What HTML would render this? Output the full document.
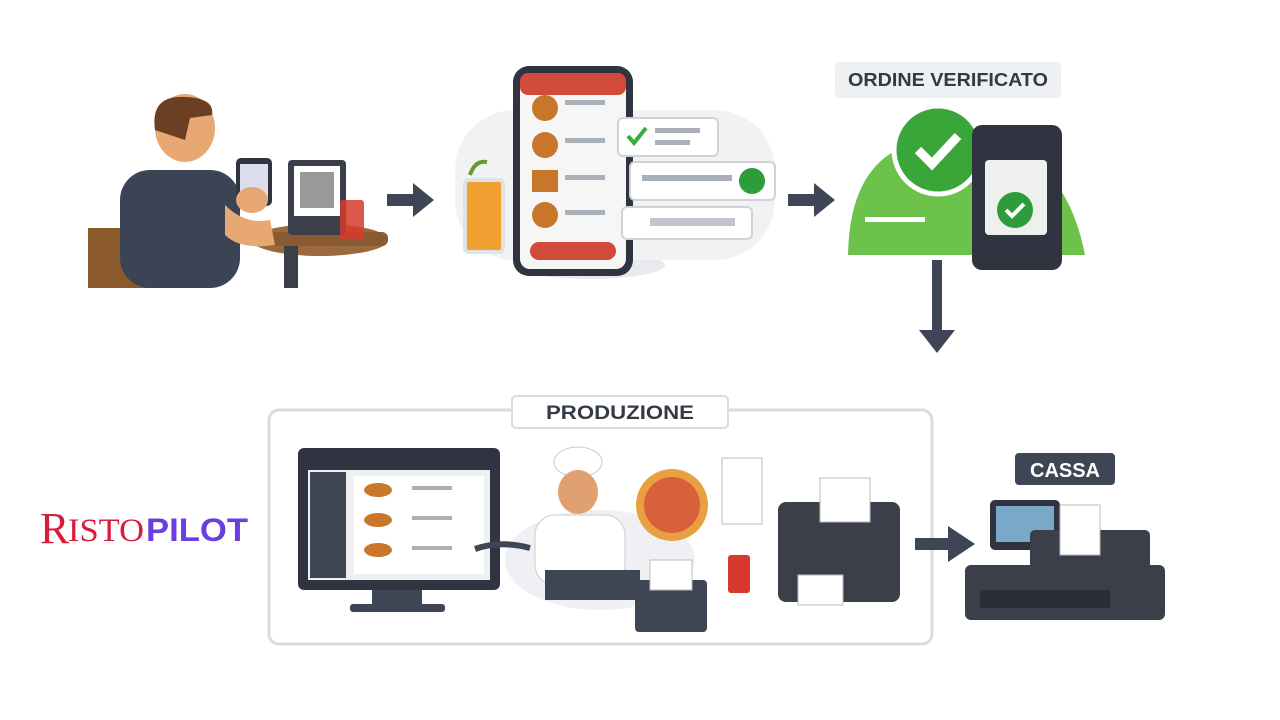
<!DOCTYPE html>
<html><head><meta charset="utf-8"><style>
html,body{margin:0;padding:0;background:#fff;}
svg{display:block}
text{font-family:"Liberation Sans",sans-serif}
</style></head><body>
<svg width="1280" height="720" viewBox="0 0 1280 720" xmlns="http://www.w3.org/2000/svg">
<rect width="1280" height="720" fill="#fff"/>
<!-- Person scene -->
<ellipse cx="320" cy="240" rx="68" ry="16" fill="#9a6a3e"/>
<rect x="252" y="232" width="136" height="14" rx="6" fill="#8a5a30"/>
<rect x="284" y="246" width="14" height="42" fill="#3a3f4a"/>
<rect x="288" y="160" width="58" height="75" rx="4" fill="#3a3f4a"/>
<rect x="294" y="166" width="46" height="50" fill="#fff"/>
<rect x="300" y="172" width="34" height="36" fill="#555" opacity=".6"/>
<rect x="340" y="200" width="24" height="40" rx="3" fill="#d7392c" opacity=".85"/>
<rect x="88" y="228" width="70" height="60" fill="#8b5a2b"/>
<rect x="120" y="170" width="120" height="118" rx="30" fill="#3b4454"/>
<ellipse cx="185" cy="128" rx="30" ry="34" fill="#e8a874"/>
<path d="M155 130 Q150 95 185 97 Q215 98 212 115 L190 118 L185 140 Z" fill="#6b3f22"/>
<rect x="236" y="158" width="36" height="48" rx="5" fill="#2f3440"/>
<rect x="240" y="164" width="28" height="36" fill="#dde"/>
<ellipse cx="252" cy="200" rx="16" ry="13" fill="#e8a874"/>
<path d="M225 205 Q245 225 270 220 L275 245 Q240 250 225 235 Z" fill="#e8a874"/>
<!-- arrow 1 -->
<path d="M387 194 H413 V183 L434 200 L413 217 V206 H387 Z" fill="#3e4656"/>
<!-- phone scene -->
<ellipse cx="590" cy="265" rx="75" ry="14" fill="#e8eaee"/>
<rect x="455" y="110" width="320" height="150" rx="60" fill="#f1f2f4"/>
<rect x="465" y="180" width="38" height="72" rx="4" fill="#f0a030" stroke="#dfe3e6" stroke-width="4"/>
<path d="M470 175 Q475 160 487 162" stroke="#6a9a2a" stroke-width="4" fill="none"/>
<rect x="513" y="66" width="120" height="210" rx="16" fill="#2f3440"/>
<rect x="520" y="73" width="106" height="196" rx="10" fill="#f6f6f6"/>
<rect x="520" y="73" width="106" height="22" rx="8" fill="#d24a3a"/>
<g fill="#c8762a"><circle cx="545" cy="108" r="13"/><circle cx="545" cy="145" r="13"/><rect x="532" y="170" width="26" height="22"/><circle cx="545" cy="215" r="13"/></g>
<g fill="#aab0b8"><rect x="565" y="100" width="40" height="5"/><rect x="565" y="138" width="40" height="5"/><rect x="565" y="175" width="40" height="5"/><rect x="565" y="210" width="40" height="5"/></g>
<rect x="530" y="242" width="86" height="18" rx="9" fill="#d24a3a"/>
<rect x="618" y="118" width="100" height="38" rx="5" fill="#fff" stroke="#cfd3d8" stroke-width="2"/>
<path d="M628 136 l6 7 l12 -15" stroke="#3cae3c" stroke-width="4" fill="none"/>
<rect x="655" y="128" width="45" height="5" fill="#aab0b8"/><rect x="655" y="140" width="35" height="5" fill="#aab0b8"/>
<rect x="630" y="162" width="145" height="38" rx="5" fill="#fff" stroke="#cfd3d8" stroke-width="2"/>
<circle cx="752" cy="181" r="13" fill="#2e9c3a"/>
<rect x="642" y="175" width="90" height="6" fill="#aab0b8"/>
<rect x="622" y="207" width="130" height="32" rx="5" fill="#fff" stroke="#cfd3d8" stroke-width="2"/>
<rect x="650" y="218" width="85" height="8" fill="#c2c6cc"/>
<!-- arrow 2 -->
<path d="M788 194 H814 V183 L835 200 L814 217 V206 H788 Z" fill="#3e4656"/>
<!-- verified -->
<rect x="835" y="62" width="226" height="36" rx="4" fill="#eef0f2"/>
<text x="948" y="86" font-size="18" font-weight="bold" fill="#333a44" text-anchor="middle" textLength="200" lengthAdjust="spacingAndGlyphs">ORDINE VERIFICATO</text>
<path d="M848 255 Q850 150 930 140 Q1060 125 1085 255 Z" fill="#6cc24a"/>
<circle cx="938" cy="150" r="44" fill="#3aa63a" stroke="#fff" stroke-width="5"/>
<path d="M918 150 l14 14 l26 -28" stroke="#fff" stroke-width="9" fill="none"/>
<rect x="865" y="217" width="60" height="5" fill="#fff"/>
<rect x="972" y="125" width="90" height="145" rx="10" fill="#2f3440"/>
<rect x="985" y="160" width="62" height="75" rx="4" fill="#eef0ee"/>
<circle cx="1015" cy="210" r="18" fill="#2e9c3a"/>
<path d="M1006 210 l6 6 l12 -12" stroke="#fff" stroke-width="4" fill="none"/>
<!-- down arrow -->
<path d="M932 260 H942 V330 H955 L937 353 L919 330 H932 Z" fill="#3e4656"/>
<!-- logo -->
<text x="40" y="543" style="font-family:'Liberation Serif',serif" font-size="44" fill="#d91a3a">R</text>
<text x="68" y="541" style="font-family:'Liberation Serif',serif" font-size="33" fill="#d91a3a" textLength="76" lengthAdjust="spacingAndGlyphs">ISTO</text>
<text x="146" y="541" font-size="32" font-weight="bold" fill="#6a3ee0" textLength="102" lengthAdjust="spacingAndGlyphs">PILOT</text>
<!-- production frame -->
<rect x="269" y="410" width="663" height="234" rx="10" fill="none" stroke="#d8dbe0" stroke-width="3"/>
<rect x="512" y="396" width="216" height="32" rx="4" fill="#fff" stroke="#d8dbe0" stroke-width="2"/>
<text x="620" y="419" font-size="19" font-weight="bold" fill="#333a44" text-anchor="middle" textLength="148" lengthAdjust="spacingAndGlyphs">PRODUZIONE</text>
<rect x="298" y="448" width="202" height="142" rx="6" fill="#2f3440"/>
<rect x="308" y="470" width="182" height="110" fill="#eef0f3"/>
<rect x="310" y="472" width="36" height="106" fill="#3e4656"/>
<rect x="354" y="476" width="130" height="98" fill="#fff"/>
<g fill="#c8762a"><ellipse cx="378" cy="490" rx="14" ry="7"/><ellipse cx="378" cy="520" rx="14" ry="7"/><ellipse cx="378" cy="550" rx="14" ry="7"/></g>
<g fill="#aab0b8"><rect x="412" y="486" width="40" height="4"/><rect x="412" y="516" width="40" height="4"/><rect x="412" y="546" width="40" height="4"/></g>
<rect x="372" y="590" width="50" height="16" fill="#3e4656"/><rect x="350" y="604" width="95" height="8" rx="3" fill="#3e4656"/>
<ellipse cx="600" cy="560" rx="95" ry="50" fill="#eef0f3"/>
<ellipse cx="578" cy="462" rx="24" ry="15" fill="#fff" stroke="#ccc"/>
<ellipse cx="578" cy="492" rx="20" ry="22" fill="#e0a070"/>
<rect x="535" y="515" width="90" height="70" rx="20" fill="#fff" stroke="#ccc"/>
<rect x="545" y="570" width="95" height="30" fill="#3e4656"/>
<path d="M475 549 Q500 540 530 548" stroke="#3e4656" stroke-width="6" fill="none"/>
<circle cx="672" cy="505" r="36" fill="#e8a040"/><circle cx="672" cy="505" r="28" fill="#d8603a"/>
<rect x="722" y="458" width="40" height="66" fill="#fff" stroke="#bbb"/>
<rect x="728" y="555" width="22" height="38" rx="3" fill="#d7392c"/>
<rect x="635" y="580" width="72" height="52" rx="4" fill="#3e4656"/>
<rect x="650" y="560" width="42" height="30" fill="#fff" stroke="#bbb"/>
<rect x="778" y="502" width="122" height="100" rx="8" fill="#3a3f4a"/>
<rect x="820" y="478" width="50" height="44" fill="#fff" stroke="#bbb"/>
<rect x="798" y="575" width="45" height="30" fill="#fff" stroke="#bbb"/>
<!-- arrow 3 -->
<path d="M915 538 H948 V526 L975 544 L948 562 V550 H915 Z" fill="#3e4656"/>
<!-- cassa -->
<rect x="1015" y="453" width="100" height="32" rx="4" fill="#3e4656"/>
<text x="1065" y="477" font-size="20" font-weight="bold" fill="#fff" text-anchor="middle" textLength="70" lengthAdjust="spacingAndGlyphs">CASSA</text>
<rect x="990" y="500" width="70" height="50" rx="5" fill="#2f3440"/><rect x="996" y="506" width="58" height="36" fill="#7aa8c8"/>
<rect x="1030" y="530" width="120" height="40" rx="5" fill="#3a3f4a"/>
<rect x="1060" y="505" width="40" height="50" fill="#fff" stroke="#bbb"/>
<rect x="965" y="565" width="200" height="55" rx="6" fill="#3a3f4a"/>
<rect x="980" y="590" width="130" height="18" fill="#2a2e38"/>
</svg>
</body></html>
